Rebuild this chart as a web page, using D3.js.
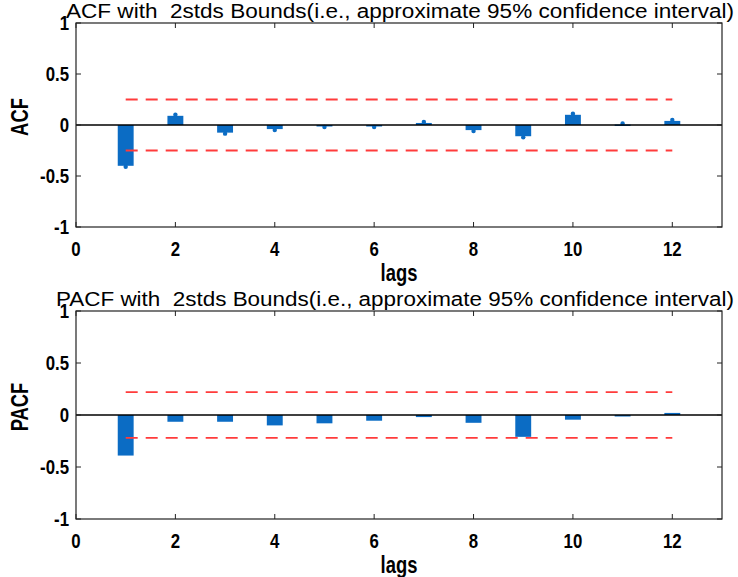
<!DOCTYPE html>
<html>
<head>
<meta charset="utf-8">
<script src="https://cdn.jsdelivr.net/npm/d3@7"></script>
<style>
  body { margin: 0; background: #fff; }
  svg { display: block; font-family: "Liberation Sans", Arial, sans-serif; }
  .tick-label { font-weight: bold; font-size: 21px; fill: #000; }
  .axis-title { font-weight: bold; font-size: 23px; fill: #000; }
  .plot-title { font-size: 20px; fill: #000; white-space: pre; }
</style>
</head>
<body>
<div id="chart"></div>
<script>
// data
var lags = [1, 2, 3, 4, 5, 6, 7, 8, 9, 10, 11, 12];
var acfValues  = [-0.40, 0.09, -0.075, -0.04, -0.01, -0.01, 0.02, -0.05, -0.11, 0.10, 0.005, 0.04];
var pacfValues = [-0.39, -0.065, -0.065, -0.10, -0.08, -0.055, -0.02, -0.075, -0.21, -0.045, -0.01, 0.02];
var acfBound = 0.25;
var pacfBound = 0.22;
var xTicks = [0, 2, 4, 6, 8, 10, 12];
var yTicks = [-1, -0.5, 0, 0.5, 1];
var xDomain = [0, 13];
var yDomain = [-1, 1];

var width = 738, height = 577;
var barColor = "#0b6cc4";
var boundColor = "#ff3b3b";
var squeeze = 0.8; // the text in the picture is narrow and tall

var svg = d3.select("#chart").append("svg")
  .attr("width", width)
  .attr("height", height);

// narrow text helper
function label(g, x, y, str, cls, anchor, rot) {
  return g.append("text")
    .attr("class", cls)
    .attr("text-anchor", anchor)
    .attr("transform", "translate(" + x + "," + y + ")" + (rot ? " rotate(" + rot + ")" : "") + " scale(" + squeeze + ",1)")
    .text(str);
}

// one panel = one subplot
function drawPanel(opt) {
  var x = d3.scaleLinear().domain(xDomain).range([opt.left, opt.right]);
  var y = d3.scaleLinear().domain(yDomain).range([opt.bottom, opt.top]);
  var g = svg.append("g");
  var tickLen = 5;

  // bars
  var bw = x(0.32) - x(0);
  g.selectAll("rect.bar")
    .data(lags)
    .enter().append("rect")
    .attr("class", "bar")
    .attr("x", function(d) { return x(d) - bw / 2; })
    .attr("y", function(d, i) { return Math.min(y(opt.values[i]), y(0)); })
    .attr("width", bw)
    .attr("height", function(d, i) { return Math.max(Math.abs(y(opt.values[i]) - y(0)), 1.5); })
    .attr("fill", barColor);

  // small stem markers on the bar ends
  if (opt.markers) {
    g.selectAll("circle.mark")
      .data(lags)
      .enter().append("circle")
      .attr("cx", function(d) { return x(d); })
      .attr("cy", function(d, i) { return y(opt.values[i]) + (opt.values[i] < 0 ? 1 : -1); })
      .attr("r", 2.2)
      .attr("fill", barColor);
  }

  // zero line
  g.append("line")
    .attr("x1", x(xDomain[0])).attr("x2", x(xDomain[1]))
    .attr("y1", y(0)).attr("y2", y(0))
    .attr("stroke", "#000").attr("stroke-width", 1.3);

  // confidence bounds
  [opt.bound, -opt.bound].forEach(function(b) {
    g.append("line")
      .attr("x1", x(lags[0])).attr("x2", x(lags[lags.length - 1]))
      .attr("y1", y(b)).attr("y2", y(b))
      .attr("stroke", boundColor)
      .attr("stroke-width", 1.8)
      .attr("stroke-dasharray", "12,8");
  });

  // box
  g.append("rect")
    .attr("x", opt.left).attr("y", opt.top)
    .attr("width", opt.right - opt.left).attr("height", opt.bottom - opt.top)
    .attr("fill", "none").attr("stroke", "#222").attr("stroke-width", 1.2);

  // inward ticks, mirrored on all sides
  xTicks.forEach(function(t) {
    g.append("line").attr("x1", x(t)).attr("x2", x(t))
      .attr("y1", opt.bottom).attr("y2", opt.bottom - tickLen)
      .attr("stroke", "#222");
    g.append("line").attr("x1", x(t)).attr("x2", x(t))
      .attr("y1", opt.top).attr("y2", opt.top + tickLen)
      .attr("stroke", "#222");
  });
  yTicks.forEach(function(t) {
    g.append("line").attr("x1", opt.left).attr("x2", opt.left + tickLen)
      .attr("y1", y(t)).attr("y2", y(t)).attr("stroke", "#222");
    g.append("line").attr("x1", opt.right).attr("x2", opt.right - tickLen)
      .attr("y1", y(t)).attr("y2", y(t)).attr("stroke", "#222");
  });

  // tick labels
  xTicks.forEach(function(t) {
    label(g, x(t), opt.bottom + 29, t, "tick-label", "middle");
  });
  yTicks.forEach(function(t) {
    label(g, opt.left - 7, y(t) + 7, t, "tick-label", "end");
  });

  // axis titles
  label(g, (opt.left + opt.right) / 2, opt.bottom + 54, "lags", "axis-title", "middle");
  label(g, 28, y(0) - 8, opt.ylabel, "axis-title", "middle", -90);

  g.append("text")
    .attr("class", "plot-title")
    .attr("x", opt.titleX)
    .attr("y", opt.top - 5)
    .attr("textLength", 734 - opt.titleX)
    .attr("lengthAdjust", "spacingAndGlyphs")
    .text(opt.title);
}

drawPanel({
  left: 76, right: 722, top: 23, bottom: 227,
  values: acfValues, bound: acfBound, markers: true,
  ylabel: "ACF", titleX: 66,
  title: "ACF with  2stds Bounds(i.e., approximate 95% confidence interval)"
});

drawPanel({
  left: 76, right: 722, top: 311, bottom: 519,
  values: pacfValues, bound: pacfBound, markers: false,
  ylabel: "PACF", titleX: 56,
  title: "PACF with  2stds Bounds(i.e., approximate 95% confidence interval)"
});
</script>
</body>
</html>
